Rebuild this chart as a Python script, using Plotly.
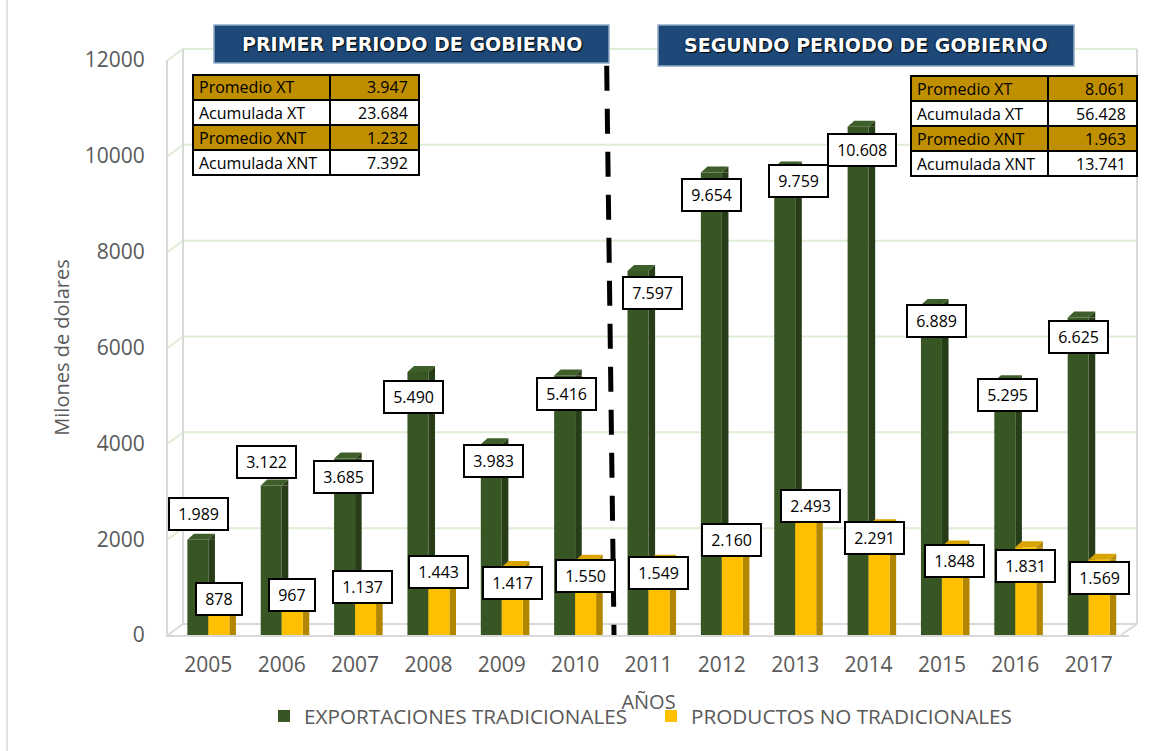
import plotly.graph_objects as go

# ---------------- data ----------------
years = [2005, 2006, 2007, 2008, 2009, 2010, 2011, 2012, 2013, 2014, 2015, 2016, 2017]
exportaciones_tradicionales = [1989, 3122, 3685, 5490, 3983, 5416, 7597, 9654, 9759, 10608, 6889, 5295, 6625]
productos_no_tradicionales = [878, 967, 1137, 1443, 1417, 1550, 1549, 2160, 2493, 2291, 1848, 1831, 1569]

series_names = ["EXPORTACIONES TRADICIONALES", "PRODUCTOS NO TRADICIONALES"]
period_titles = ["PRIMER PERIODO DE GOBIERNO", "SEGUNDO PERIODO DE GOBIERNO"]
table_labels = ["Promedio XT", "Acumulada XT", "Promedio XNT", "Acumulada XNT"]
first_period_values = ["3.947", "23.684", "1.232", "7.392"]
second_period_values = ["8.061", "56.428", "1.963", "13.741"]
y_ticks = [0, 2000, 4000, 6000, 8000, 10000, 12000]
y_title = "Milones de dolares"
x_title = "AÑOS"

# label placement tweaks (pixels) – layout only
green_label_dy = [-26, -23, 19, 25, 17, 19, 22, 23, 14, 23, 16, 14, 19]
green_label_dx = [1, -5, -1, -4, 2, 2, 14, 0, 14, 4, 5, 3, 0]
yellow_label_dy = [6, 6, 6, 6, 16, 15, 12, 8, -10, 13, 15, 19, 18]
yellow_label_dx = [0, 0, -3, 0, 0, 0, 0, -1, 5, -5, 2, 0, 0]

# ---------------- style ----------------
FONT = "Open Sans, Noto Sans, DejaVu Sans, sans-serif"
GREEN = "#375623"
GREEN_SIDE = "#263D17"
GREEN_TOP = "#3F5F2A"
YELLOW = "#FFC000"
YELLOW_SIDE = "#B38600"
YELLOW_TOP = "#D9A400"
GOLD = "#BF8F00"
GREY_TXT = "#595959"
GRID = "#E0EDD6"
WALL = "#D9D9D9"

L, R, T, B = 168, 1129, 60, 635
W, H = R - L, B - T
YMAX = 12000
DEPTH_PX = 11          # 3-D depth of the back wall (pixels)


def px_x(px):
    return (px - L) / W


def px_y(py):
    return (B - py) / H


BW = 0.286   # bar front width (category units)
SW = 0.09    # bar side depth (category units)
TOP_H = 6 * YMAX / H   # top-face rise in data units (~6 px)

fig = go.Figure()
fig.add_trace(go.Bar(x=years, y=exportaciones_tradicionales, offset=0, width=SW,
                     marker=dict(color=GREEN_SIDE, line=dict(width=0)),
                     showlegend=False, hoverinfo="skip"))
fig.add_trace(go.Bar(x=years, y=exportaciones_tradicionales, offset=-BW, width=BW,
                     name=series_names[0], marker=dict(color=GREEN, line=dict(width=0))))
fig.add_trace(go.Bar(x=years, y=productos_no_tradicionales, offset=BW, width=SW,
                     marker=dict(color=YELLOW_SIDE, line=dict(width=0)),
                     showlegend=False, hoverinfo="skip"))
fig.add_trace(go.Bar(x=years, y=productos_no_tradicionales, offset=0, width=BW,
                     name=series_names[1], marker=dict(color=YELLOW, line=dict(width=0))))


def top_faces(values, x_off):
    tx, ty, sx, sy = [], [], [], []
    for yr, v in zip(years, values):
        xl = yr + x_off
        xr = xl + BW
        tx += [xl, xl + SW, xr + SW, xr, xl, None]
        ty += [v, v + TOP_H, v + TOP_H, v, v, None]
        sx += [xr, xr + SW, xr + SW, xr, None]
        sy += [v, v + TOP_H, v, v, None]
    return tx, ty, sx, sy


for values, x_off, ctop, cside in [(exportaciones_tradicionales, -BW, GREEN_TOP, GREEN_SIDE),
                                   (productos_no_tradicionales, 0, YELLOW_TOP, YELLOW_SIDE)]:
    tx, ty, sx, sy = top_faces(values, x_off)
    fig.add_trace(go.Scatter(x=sx, y=sy, mode="lines", fill="toself", fillcolor=cside,
                             line=dict(width=0, color=cside), showlegend=False, hoverinfo="skip"))
    fig.add_trace(go.Scatter(x=tx, y=ty, mode="lines", fill="toself", fillcolor=ctop,
                             line=dict(width=0, color=ctop), showlegend=False, hoverinfo="skip"))

annotations = []
shapes = []

# 3-D walls: back-wall gridlines, left-wall diagonals, wall edges
BACK_L, BACK_R = 183, 1137
for t in y_ticks:
    yf = B - t * H / YMAX
    yb = yf - DEPTH_PX
    col = WALL if t == 0 else GRID
    shapes.append(dict(type="line", xref="paper", yref="paper", layer="below",
                       x0=px_x(BACK_L), x1=px_x(BACK_R), y0=px_y(yb), y1=px_y(yb),
                       line=dict(color=col, width=2)))
    shapes.append(dict(type="line", xref="paper", yref="paper", layer="below",
                       x0=px_x(L), x1=px_x(BACK_L), y0=px_y(yf), y1=px_y(yb),
                       line=dict(color=col, width=2)))
for xv in (BACK_L, BACK_R):
    shapes.append(dict(type="line", xref="paper", yref="paper", layer="below",
                       x0=px_x(xv), x1=px_x(xv), y0=px_y(B - DEPTH_PX), y1=px_y(T - DEPTH_PX),
                       line=dict(color=WALL, width=2)))
shapes.append(dict(type="line", xref="paper", yref="paper", layer="below",
                   x0=px_x(R - 8), x1=px_x(BACK_R), y0=px_y(B), y1=px_y(B - DEPTH_PX),
                   line=dict(color=WALL, width=2)))


def fmt(v):
    return f"{v:,}".replace(",", ".")


NB = "\u00a0"
for i, yr in enumerate(years):
    v = exportaciones_tradicionales[i]
    annotations.append(dict(x=yr - BW / 2, y=v, xref="x", yref="y", text=NB + fmt(v) + NB,
                            showarrow=False, xshift=green_label_dx[i], yshift=-green_label_dy[i],
                            bgcolor="white", bordercolor="black", borderwidth=2, borderpad=4,
                            font=dict(family=FONT, size=16, color="black")))
    v = productos_no_tradicionales[i]
    annotations.append(dict(x=yr + BW / 2, y=v, xref="x", yref="y", text=NB + fmt(v) + NB,
                            showarrow=False, xshift=yellow_label_dx[i], yshift=-yellow_label_dy[i],
                            bgcolor="white", bordercolor="black", borderwidth=2, borderpad=4,
                            font=dict(family=FONT, size=16, color="black")))

# dashed separator between periods
shapes.append(dict(type="line", xref="x", yref="paper", x0=2010.43, x1=2010.53, y0=0.99, y1=0.0,
                   line=dict(color="black", width=5, dash="25px,18px")))

# period title boxes
for (x0, x1, y0, y1), title in zip([(214, 609, 25, 63), (658, 1074, 25, 66)], period_titles):
    shapes.append(dict(type="rect", xref="paper", yref="paper",
                       x0=px_x(x0), x1=px_x(x1), y0=px_y(y1), y1=px_y(y0),
                       fillcolor="#1D4877", line=dict(color="#8FAAC8", width=1.5)))
    annotations.append(dict(x=px_x((x0 + x1) / 2), y=px_y((y0 + y1) / 2), xref="paper", yref="paper",
                            text="<b>" + title + "</b>", showarrow=False, xanchor="center", yanchor="middle",
                            font=dict(family="DejaVu Sans, sans-serif", size=19, color="white",
                                      shadow="1px 1px 1px #000000, -1px 0px 1px #0b2440")))

# summary tables
for (x0, xs, x1, y0), values in zip([(193, 330, 419, 75), (911, 1048, 1137, 76)],
                                     [first_period_values, second_period_values]):
    rh = 25
    for r, (lab, val) in enumerate(zip(table_labels, values)):
        fill = GOLD if r % 2 == 0 else "white"
        top = y0 + r * rh
        bot = top + rh
        for cx0, cx1 in [(x0, xs), (xs, x1)]:
            shapes.append(dict(type="rect", xref="paper", yref="paper",
                               x0=px_x(cx0), x1=px_x(cx1), y0=px_y(bot), y1=px_y(top),
                               fillcolor=fill, line=dict(color="black", width=2)))
        annotations.append(dict(x=px_x(x0 + 4), y=px_y((top + bot) / 2), xref="paper", yref="paper",
                                text=lab, showarrow=False, xanchor="left", yanchor="middle",
                                font=dict(family=FONT, size=16, color="black")))
        annotations.append(dict(x=px_x(x1 - 9), y=px_y((top + bot) / 2), xref="paper", yref="paper",
                                text=val, showarrow=False, xanchor="right", yanchor="middle",
                                font=dict(family=FONT, size=16, color="black")))

# outer chart border (left edge)
shapes.append(dict(type="line", xref="paper", yref="paper", x0=px_x(7), x1=px_x(7), y0=px_y(760), y1=px_y(0),
                   line=dict(color=WALL, width=1.5)))

fig.update_layout(
    width=1158, height=751,
    margin=dict(l=L, r=1158 - R, t=T, b=751 - B, autoexpand=False),
    paper_bgcolor="white", plot_bgcolor="rgba(0,0,0,0)",
    barmode="overlay",
    font=dict(family=FONT, color=GREY_TXT),
    xaxis=dict(range=[2004.45, 2017.55], tickmode="array", tickvals=years, ticktext=[str(y) for y in years],
               tickfont=dict(size=21, color=GREY_TXT), showgrid=False, zeroline=False,
               showline=True, linecolor=WALL, linewidth=2, ticks="", ticklabelstandoff=10,
               title=dict(text=x_title, font=dict(size=20, color=GREY_TXT), standoff=18)),
    yaxis=dict(range=[0, YMAX], tickmode="array", tickvals=y_ticks, ticktext=[str(t) for t in y_ticks],
               tickfont=dict(size=21, color=GREY_TXT), showgrid=False,
               zeroline=False, showline=True, linecolor=WALL, linewidth=2,
               ticks="", ticklabelstandoff=17,
               title=dict(text=y_title, font=dict(size=20, color=GREY_TXT), standoff=10)),
    legend=dict(orientation="h", x=px_x(264), xanchor="left", y=px_y(716), yanchor="middle",
                entrywidth=342, entrywidthmode="pixels",
                font=dict(size=20.7, color=GREY_TXT), bgcolor="rgba(0,0,0,0)"),
    annotations=annotations,
    shapes=shapes,
)

fig.write_html("out.html", config={"displayModeBar": False},
               post_script="document.body.style.margin='0';")
